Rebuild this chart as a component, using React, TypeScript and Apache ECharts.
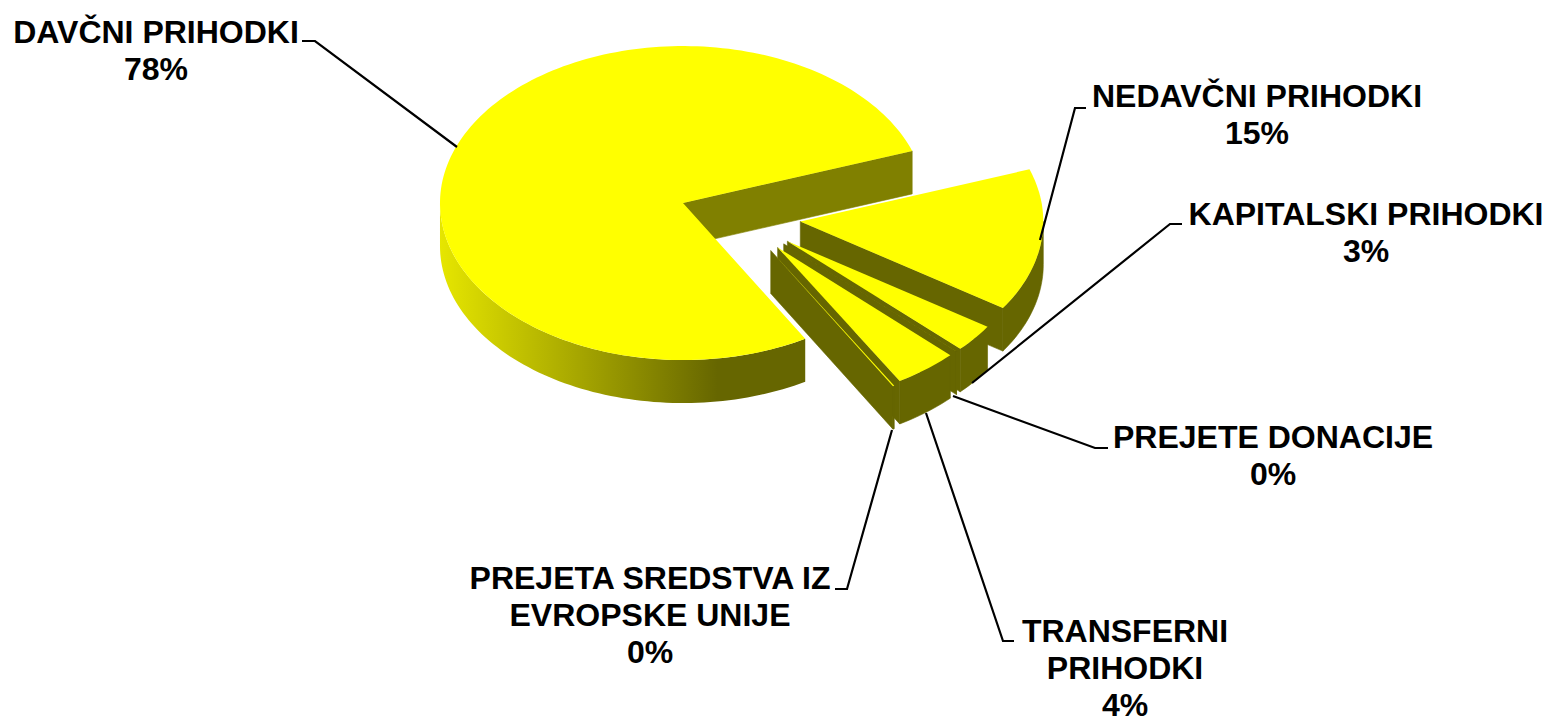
import React, { useEffect, useRef } from "react";
import * as echarts from "echarts";

const categories = ["DAVČNI PRIHODKI", "NEDAVČNI PRIHODKI", "KAPITALSKI PRIHODKI", "PREJETE DONACIJE", "TRANSFERNI PRIHODKI", "PREJETA SREDSTVA IZ EVROPSKE UNIJE"];
const values = [78.0, 14.7, 2.9, 0.01, 4.29, 0.1];
const labelLines = [
  ["DAVČNI PRIHODKI"],
  ["NEDAVČNI PRIHODKI"],
  ["KAPITALSKI PRIHODKI"],
  ["PREJETE DONACIJE"],
  ["TRANSFERNI", "PRIHODKI"],
  ["PREJETA SREDSTVA IZ", "EVROPSKE UNIJE"],
];
const labelCenters = [[156, 50], [1257, 114], [1366, 232], [1273, 455], [1125, 668], [650, 615]];
const leaders = [
  [[302, 41], [315, 41], [457, 147]],
  [[1086, 108], [1075, 108], [1040, 240]],
  [[1182, 224], [1170, 224], [972, 383]],
  [[1108, 448], [1095, 448], [953, 396]],
  [[1014, 641], [1003, 641], [926, 413]],
  [[835, 589], [847, 589], [892, 430]],
];
const cutWallColors = ["#808000", "#666600", "#666600", "#666600", "#666600", "#666600"];
const radiusScales = [1, 1, 0.988, 0.988, 0.988, 1];

const CX = 740, CY = 216.6, RX = 243, RY = 157, DEPTH = 43, EXPLODE = 0.25, START = -59.8;
const rad = (d: number) => (d * Math.PI) / 180;

function arcPts(ax: number, ay: number, k: number, from: number, to: number, dy = 0) {
  const n = Math.max(2, Math.ceil(Math.abs(to - from) / 1.5));
  const pts: number[][] = [];
  for (let i = 0; i <= n; i++) {
    const t = rad(from + ((to - from) * i) / n);
    pts.push([ax + k * RX * Math.cos(t), ay - k * RY * Math.sin(t) + dy]);
  }
  return pts;
}

function renderSlice(params: any, api: any) {
  const idx = params.dataIndex;
  const total = values.reduce((a, b) => a + b, 0);
  const before = values.slice(0, idx).reduce((a, b) => a + b, 0);
  const s = START - (before / total) * 360;
  const e = s - (api.value(0) / total) * 360;
  const mid = rad((s + e) / 2);
  const k = radiusScales[idx];
  const ax = CX + EXPLODE * RX * Math.cos(mid);
  const ay = CY - EXPLODE * RY * Math.sin(mid);
  const children: any[] = [];
  const wall = (angle: number) => {
    const ox = ax + k * RX * Math.cos(rad(angle));
    const oy = ay - k * RY * Math.sin(rad(angle));
    children.push({
      type: "polygon",
      shape: { points: [[ax, ay], [ox, oy], [ox, oy + DEPTH], [ax, ay + DEPTH]] },
      style: { fill: cutWallColors[idx], stroke: cutWallColors[idx], lineWidth: 0.6 },
    });
  };
  if (Math.cos(rad(s)) < 0) wall(s);
  if (Math.cos(rad(e)) > 0) wall(e);
  // outer rim: only the part on the front half of the ellipse shows
  const ranges = [[-180, 0], [-540, -360]];
  for (const [lo, hi] of ranges) {
    const from = Math.min(s, hi), to = Math.max(e, lo);
    if (from > to) {
      const top = arcPts(ax, ay, k, from, to);
      const bottom = arcPts(ax, ay, k, to, from, DEPTH);
      const wide = from - to > 90;
      children.push({
        type: "polygon",
        shape: { points: top.concat(bottom) },
        style: wide
          ? {
              fill: new echarts.graphic.LinearGradient(0, 0, 1, 0, [
                { offset: 0, color: "#e6e600" },
                { offset: 0.76, color: "#666600" },
                { offset: 1, color: "#666600" },
              ]),
            }
          : { fill: "#666600", stroke: "#666600", lineWidth: 0.6 },
      });
    }
  }
  children.push({
    type: "polygon",
    shape: { points: [[ax, ay] as number[]].concat(arcPts(ax, ay, k, s, e)) },
    style: { fill: "#ffff00" },
  });
  return { type: "group", children };
}

export default function App() {
  const ref = useRef<HTMLDivElement>(null);
  useEffect(() => {
    document.body.style.margin = "0";
    const chart = echarts.init(ref.current!, undefined, { renderer: "svg" });
    const total = values.reduce((a, b) => a + b, 0);
    const graphic: any[] = [];
    leaders.forEach((pts) => {
      graphic.push({ type: "polyline", z: 20, shape: { points: pts }, style: { stroke: "#000", lineWidth: 2.2, fill: "none" } });
    });
    labelLines.forEach((lines, i) => {
      const text = lines.concat(Math.round((values[i] / total) * 100) + "%").join("\n");
      graphic.push({
        type: "text",
        z: 20,
        x: labelCenters[i][0],
        y: labelCenters[i][1],
        style: {
          text,
          fill: "#000",
          fontFamily: "Liberation Sans",
          fontWeight: "bold",
          fontSize: 32,
          lineHeight: 37,
          align: "center",
          verticalAlign: "middle",
        },
      });
    });
    chart.setOption({
      animation: false,
      backgroundColor: "#fff",
      graphic,
      series: [
        {
          type: "custom",
          coordinateSystem: "none",
          silent: true,
          renderItem: renderSlice,
          data: values.map((v, i) => ({ name: categories[i], value: [v] })),
        },
      ],
    });
    return () => chart.dispose();
  }, []);
  return <div ref={ref} style={{ position: "absolute", left: 0, top: 0, width: 1548, height: 718 }} />;
}
